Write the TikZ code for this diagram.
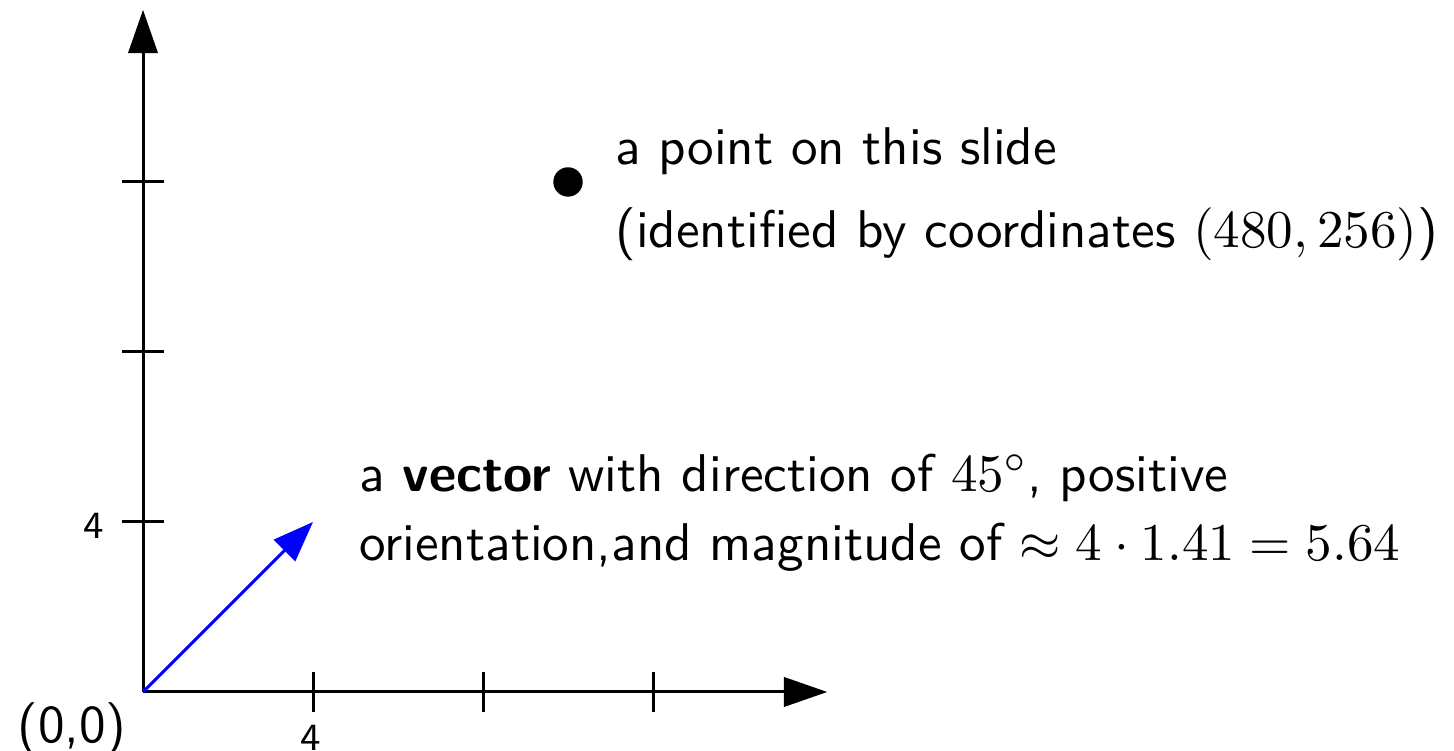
\documentclass[tikz,border=0pt]{standalone}
\usetikzlibrary{arrows.meta}
\begin{document}
\begin{tikzpicture}[x=0.5cm, y=0.5cm, line width=1pt,
		font=\sffamily\fontsize{10.95}{13.15}\selectfont,
		axisline/.style={-{Triangle[length=14.5pt,width=9.8pt]}},
		vecline/.style={blue, -{Triangle[length=13.5pt,width=10pt]}},
		label/.style={inner sep=0pt, scale=1.623},
		ticklabel/.style={inner sep=0pt, scale=1.623, font=\sffamily\fontsize{7.95}{9.5}\selectfont}]
		\useasboundingbox (-3.365,-1.388) rectangle (30.847,16.282);
		
		% axes
		\coordinate (o) at (0,0);
		\coordinate (xend) at (16.1,0);
		\coordinate (yend) at (0,16.05);
		\draw[axisline] (o) -- (xend);
		\draw[axisline] (o) -- (yend);
		
		% ticks
		\draw (4,-0.47) -- (4,0.47);
		\draw (8,-0.47) -- (8,0.47);
		\draw (12,-0.47) -- (12,0.47);
		\draw (-0.5,4) -- (0.5,4);
		\draw (-0.5,8) -- (0.5,8);
		\draw (-0.5,12) -- (0.5,12);
		
		\node[ticklabel, anchor=north] (xlab) at (3.95,-0.73) {4};
		\node[ticklabel, anchor=east] (ylab) at (-0.85,3.92) {4};
		\node[label, anchor=base east] (orig) at (-0.33,-1.18) {(0,0)};
		
		% point
		\node[circle, fill, inner sep=0pt, minimum size=0.346cm] (dot) at (10,12) {};
		\node[label, anchor=base west, align=left, font=\sffamily\fontsize{10.95}{17.13}\selectfont] (pointtext) at (11.06,10.447)
			{a point on this slide\\(identified by coordinates $(480,256)$)};
		
		% vector
		\coordinate (vtip) at (4,4);
		\draw[vecline] (o) -- (vtip);
		\node[label, anchor=base west, align=left, font=\sffamily\fontsize{10.95}{14.23}\selectfont] (vectext) at (5.035,3.082)
			{a \textbf{vector} with direction of $45^\circ$, positive\\orientation,and magnitude of $\approx 4\cdot 1.41 = 5.64$};
	\end{tikzpicture}
\end{document}
